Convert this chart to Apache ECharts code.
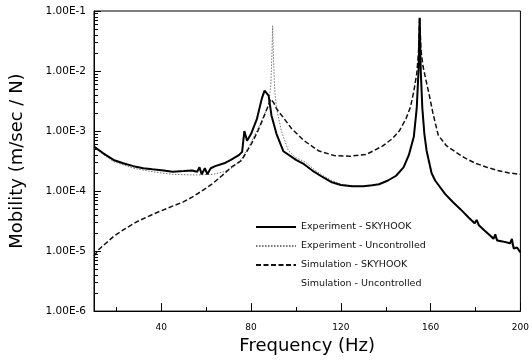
<!DOCTYPE html>
<html>
<head>
<meta charset="utf-8">
<script src="https://cdn.jsdelivr.net/npm/echarts@6/dist/echarts.min.js"></script>
<style>
html, body { margin: 0; padding: 0; background: #fff; }
#main { width: 532px; height: 360px; }
</style>
</head>
<body>
<div id="main"></div>
<script>
// Experiment - SKYHOOK (solid)
var expSkyFreq = [10, 14, 18.7, 23, 27.5, 32, 36, 41, 45, 50, 53.7, 56, 57, 58, 59.4, 60.5, 62, 64, 68, 71, 74.7, 76, 77, 78.2, 80, 82.6, 84.8, 86, 87.8, 89.1, 91.3, 94.4, 100, 103.6, 108, 112, 116, 120, 125, 130, 134, 137, 141, 144.6, 148, 150.3, 152.5, 153.8, 154.6, 155.1, 155.6, 156.3, 157.2, 158.2, 160.4, 162, 166.5, 170, 173.5, 177, 179.6, 180.5, 181.5, 184, 186.6, 188, 188.8, 189.6, 192, 195.4, 196.2, 197, 198.5, 200];
var expSkyVal = [5.5e-4, 4.3e-4, 3.3e-4, 2.9e-4, 2.6e-4, 2.4e-4, 2.3e-4, 2.2e-4, 2.1e-4, 2.15e-4, 2.2e-4, 2.1e-4, 2.5e-4, 1.9e-4, 2.4e-4, 1.9e-4, 2.4e-4, 2.6e-4, 2.9e-4, 3.3e-4, 4.0e-4, 4.5e-4, 1.0e-3, 6.9e-4, 9e-4, 1.6e-3, 3.5e-3, 4.7e-3, 3.9e-3, 1.8e-3, 9e-4, 4.6e-4, 3.3e-4, 2.8e-4, 2.1e-4, 1.7e-4, 1.4e-4, 1.26e-4, 1.2e-4, 1.2e-4, 1.25e-4, 1.3e-4, 1.5e-4, 1.8e-4, 2.5e-4, 4e-4, 8e-4, 2.4e-3, 1e-2, 7.7e-2, 1e-2, 2.4e-3, 9e-4, 4.7e-4, 2e-4, 1.5e-4, 8.9e-5, 6.5e-5, 4.9e-5, 3.6e-5, 2.9e-5, 3.3e-5, 2.7e-5, 2.2e-5, 1.8e-5, 1.6e-5, 1.9e-5, 1.5e-5, 1.45e-5, 1.35e-5, 1.6e-5, 1.1e-5, 1.15e-5, 9.5e-6];

// Experiment - Uncontrolled (dotted)
var expUncFreq = [10, 14, 18.7, 27.5, 36, 45, 55, 63, 68, 72, 76, 80.4, 84.8, 87.8, 88.8, 89.3, 89.6, 89.9, 90.5, 91.3, 93.5, 96.6, 100, 104.4, 108, 112, 116, 120, 125, 130, 134, 137, 141, 144.6, 148, 150.3, 152.5, 153.8, 154.6, 155.1, 155.6, 156.3, 157.2, 158.2, 160.4, 162, 166.5, 170, 173.5, 177, 180, 184, 188, 192, 196, 200];
var expUncVal = [5.3e-4, 4.1e-4, 3.1e-4, 2.4e-4, 2.1e-4, 1.9e-4, 1.85e-4, 1.9e-4, 2.1e-4, 2.5e-4, 3.5e-4, 6.9e-4, 1.5e-3, 2.7e-3, 6e-3, 2e-2, 5.7e-2, 2e-2, 5e-3, 2.4e-3, 1e-3, 4.7e-4, 3.6e-4, 3e-4, 2.3e-4, 1.8e-4, 1.5e-4, 1.3e-4, 1.22e-4, 1.2e-4, 1.25e-4, 1.3e-4, 1.5e-4, 1.8e-4, 2.5e-4, 4e-4, 8e-4, 2.4e-3, 1e-2, 7.5e-2, 1e-2, 2.4e-3, 9e-4, 4.7e-4, 2e-4, 1.5e-4, 8.9e-5, 6.5e-5, 4.9e-5, 3.6e-5, 2.9e-5, 2.2e-5, 1.7e-5, 1.45e-5, 1.3e-5, 1e-5];

// Simulation - SKYHOOK (dashed)
var simSkyFreq = [10, 12, 14.8, 18.7, 23, 29.2, 36.2, 40, 45, 49.8, 53.7, 58, 62.5, 67, 71.2, 75.6, 78, 80.5, 83, 85, 87, 88.7, 90, 91.5, 94.8, 98, 103.6, 110, 117, 124, 131.5, 138.5, 143, 146, 149, 151, 152.5, 153.8, 154.6, 155.1, 155.7, 156.6, 157.8, 159.5, 161, 163.4, 167, 171, 175, 180, 185, 189.7, 195, 200];
var simSkyVal = [8.3e-6, 1.05e-5, 1.3e-5, 1.75e-5, 2.25e-5, 3.1e-5, 4.1e-5, 4.7e-5, 5.6e-5, 6.6e-5, 7.9e-5, 1.0e-4, 1.3e-4, 1.8e-4, 2.5e-4, 3.2e-4, 4.5e-4, 6.5e-4, 1.0e-3, 1.5e-3, 2.3e-3, 3.4e-3, 3.0e-3, 2.3e-3, 1.6e-3, 1.1e-3, 6.9e-4, 4.7e-4, 3.9e-4, 3.8e-4, 4.1e-4, 5.6e-4, 7.5e-4, 1e-3, 1.6e-3, 2.5e-3, 4.6e-3, 9e-3, 2e-2, 7.7e-2, 2.2e-2, 1.2e-2, 7.4e-3, 3.8e-3, 2e-3, 8.5e-4, 5.7e-4, 4.5e-4, 3.6e-4, 2.9e-4, 2.5e-4, 2.2e-4, 2.0e-4, 1.9e-4];

// Simulation - Uncontrolled (no visible trace)
var simUncFreq = [];
var simUncVal = [];

var seriesNames = ['Experiment - SKYHOOK', 'Experiment - Uncontrolled', 'Simulation - SKYHOOK', 'Simulation - Uncontrolled'];
var xLabelValues = [40, 80, 120, 160, 200];
var xMinorValues = [20, 60, 100, 140, 180];
var yMinorMantissa = [2, 3, 4, 5, 6, 7, 8, 9];
var yDecades = [-6, -5, -4, -3, -2];

function pairs(fs, vs) {
    return fs.map(function (f, i) { return [f, vs[i]]; });
}

var yMinorValues = [];
yDecades.forEach(function (d) {
    yMinorMantissa.forEach(function (m) { yMinorValues.push(d + Math.log10(m)); });
});

var dom = document.getElementById('main');
var myChart = echarts.init(dom, null, { renderer: 'canvas' });

var tickFont = 'DejaVu Sans';

option = {
    animation: false,
    backgroundColor: '#fff',
    grid: {
        left: 89,
        right: 9,
        top: 11,
        bottom: 44,
        show: true,
        borderColor: '#000',
        borderWidth: 1,
        backgroundColor: 'transparent'
    },
    legend: {
        orient: 'vertical',
        left: 250,
        top: 217,
        itemWidth: 40,
        itemHeight: 12,
        itemGap: 9,
        data: seriesNames,
        itemStyle: { opacity: 0 },
        textStyle: {
            fontFamily: tickFont,
            fontSize: 9.5,
            color: '#111'
        }
    },
    xAxis: [
        {
            type: 'value',
            min: 10,
            max: 200,
            name: 'Frequency (Hz)',
            nameLocation: 'middle',
            nameGap: 25,
            nameTextStyle: { fontFamily: tickFont, fontSize: 18, color: '#000' },
            axisLine: { show: true, lineStyle: { color: '#000', width: 1 } },
            axisTick: { show: true, inside: true, length: 8, customValues: xLabelValues, lineStyle: { color: '#000' } },
            axisLabel: { show: true, customValues: xLabelValues, margin: 12, fontFamily: tickFont, fontSize: 9, color: '#000' },
            splitLine: { show: false }
        },
        {
            type: 'value',
            min: 10,
            max: 200,
            position: 'bottom',
            offset: 0,
            axisLine: { show: false },
            axisTick: { show: true, inside: true, length: 4, customValues: xMinorValues, lineStyle: { color: '#000' } },
            axisLabel: { show: false },
            splitLine: { show: false }
        }
    ],
    yAxis: [
        {
            type: 'log',
            logBase: 10,
            min: 1e-6,
            max: 1e-1,
            name: 'Mobility (m/sec / N)',
            nameLocation: 'middle',
            nameGap: 68,
            nameTextStyle: { fontFamily: tickFont, fontSize: 18, color: '#000' },
            axisLine: { show: true, lineStyle: { color: '#000', width: 1 } },
            axisTick: { show: true, inside: true, length: 7, lineStyle: { color: '#000' } },
            axisLabel: {
                margin: 8,
                fontFamily: tickFont,
                fontSize: 10.5,
                color: '#000',
                formatter: function (v) { return Number(v).toExponential(2).toUpperCase(); }
            },
            splitLine: { show: false }
        },
        {
            type: 'value',
            min: -6,
            max: -1,
            position: 'left',
            offset: 0,
            axisLine: { show: false },
            axisTick: { show: true, inside: true, length: 4, customValues: yMinorValues, lineStyle: { color: '#000' } },
            axisLabel: { show: false },
            splitLine: { show: false }
        }
    ],
    series: [
        {
            name: seriesNames[1],
            type: 'line',
            symbol: 'none',
            z: 2,
            data: pairs(expUncFreq, expUncVal),
            itemStyle: { color: '#777' },
            lineStyle: { color: '#777', width: 1, type: [1.5, 1.5] }
        },
        {
            name: seriesNames[2],
            type: 'line',
            symbol: 'none',
            z: 3,
            data: pairs(simSkyFreq, simSkyVal),
            itemStyle: { color: '#111' },
            lineStyle: { color: '#111', width: 1.5, type: [5, 2.5] }
        },
        {
            name: seriesNames[0],
            type: 'line',
            symbol: 'none',
            z: 4,
            data: pairs(expSkyFreq, expSkyVal),
            itemStyle: { color: '#000' },
            lineStyle: { color: '#000', width: 2 }
        },
        {
            name: seriesNames[3],
            type: 'line',
            symbol: 'none',
            data: pairs(simUncFreq, simUncVal),
            itemStyle: { color: 'rgba(0,0,0,0)' },
            lineStyle: { color: 'rgba(0,0,0,0)', width: 1 }
        }
    ]
};

if (option && typeof option === "object") {
    myChart.setOption(option, true);
}
</script>
</body>
</html>
